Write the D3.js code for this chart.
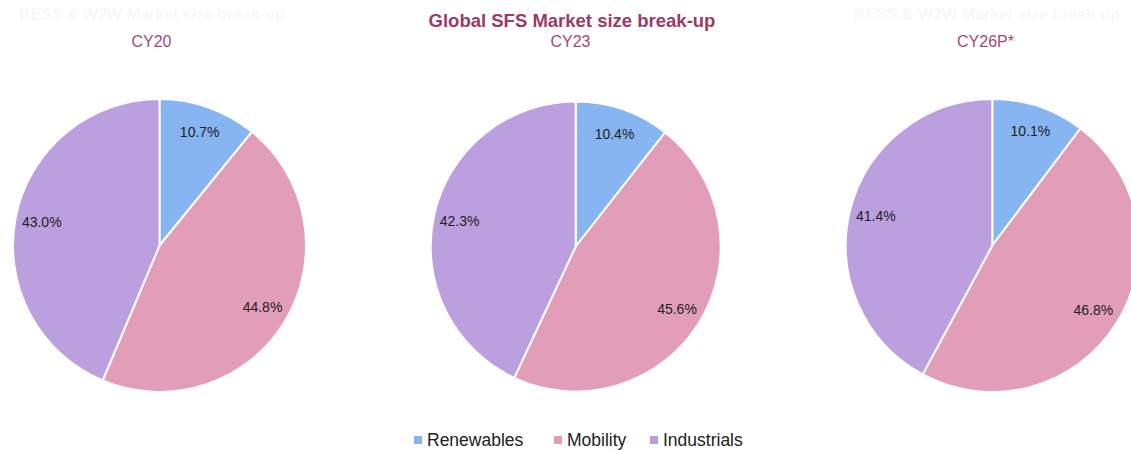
<!DOCTYPE html>
<html>
<head>
<meta charset="utf-8">
<script src="https://cdn.jsdelivr.net/npm/d3@7"></script>
<style>
  html, body { margin: 0; padding: 0; background: #ffffff; }
  svg { display: block; font-family: "Liberation Sans", Arial, Helvetica, sans-serif; }
</style>
</head>
<body>
<svg id="chart" width="1131" height="450"></svg>
<script>
const categories = ["Renewables", "Mobility", "Industrials"];
const years = ["CY20", "CY23", "CY26P*"];
const cy20Values = [10.7, 44.8, 43.0];
const cy23Values = [10.4, 45.6, 42.3];
const cy26Values = [10.1, 46.8, 41.4];
const seriesValues = [cy20Values, cy23Values, cy26Values];
const colors = ["#86b5f1", "#e29db8", "#bc9fdf"];
const title = "Global SFS Market size break-up";
const ghostTitle = "BESS & W2W Market size break-up";

const svg = d3.select("#chart");

// layout (pie centers and radii)
const layout = [
  { cx: 159.5, cy: 245.5, r: 146.5, tx: 151.5 },
  { cx: 575.7, cy: 246.5, r: 145, tx: 570.5 },
  { cx: 992.3, cy: 245.5, r: 146.5, tx: 985.5 }
];

const color = d3.scaleOrdinal().domain(categories).range(colors);

// faint ghost titles
[152, 987].forEach(x => {
  svg.append("text").attr("x", x).attr("y", 20).attr("text-anchor", "middle")
    .attr("font-size", 16).attr("font-weight", "bold").attr("fill", "#f8f8f8").text(ghostTitle);
});

// main title
svg.append("text").attr("x", 572).attr("y", 26.5).attr("text-anchor", "middle")
  .attr("font-size", 18.5).attr("font-weight", "bold").attr("fill", "#9b3b65").text(title);

const pie = d3.pie().sort(null).value(d => d.v);

seriesValues.forEach((vals, i) => {
  const L = layout[i];
  const g = svg.append("g").attr("transform", `translate(${L.cx},${L.cy})`);
  const data = categories.map((c, k) => ({ c, v: vals[k] }));
  const arcs = pie(data);
  const arc = d3.arc().innerRadius(0).outerRadius(L.r);
  const labelArc = d3.arc().innerRadius(L.r * 0.82).outerRadius(L.r * 0.82);

  g.selectAll("path").data(arcs).join("path")
    .attr("d", arc)
    .attr("fill", d => color(d.data.c))
    .attr("stroke", "#ffffff")
    .attr("stroke-width", 2)
    .attr("stroke-linejoin", "round");

  g.selectAll("text.lbl").data(arcs).join("text")
    .attr("class", "lbl")
    .attr("transform", d => `translate(${labelArc.centroid(d)})`)
    .attr("text-anchor", "middle")
    .attr("dy", "0.35em")
    .attr("font-size", 14)
    .attr("fill", "#222222")
    .text(d => d.data.v.toFixed(1) + "%");

  svg.append("text")
    .attr("x", L.tx).attr("y", 47)
    .attr("text-anchor", "middle")
    .attr("font-size", 16)
    .attr("fill", "#a34a78")
    .text(years[i]);
});

// legend
const legendX = [414, 554, 650];
const lg = svg.append("g");
categories.forEach((c, k) => {
  lg.append("rect").attr("x", legendX[k]).attr("y", 436).attr("width", 8).attr("height", 8)
    .attr("fill", color(c));
  lg.append("text").attr("x", legendX[k] + 13).attr("y", 445.5)
    .attr("font-size", 17.5).attr("fill", "#222222").text(c);
});
</script>
</body>
</html>
